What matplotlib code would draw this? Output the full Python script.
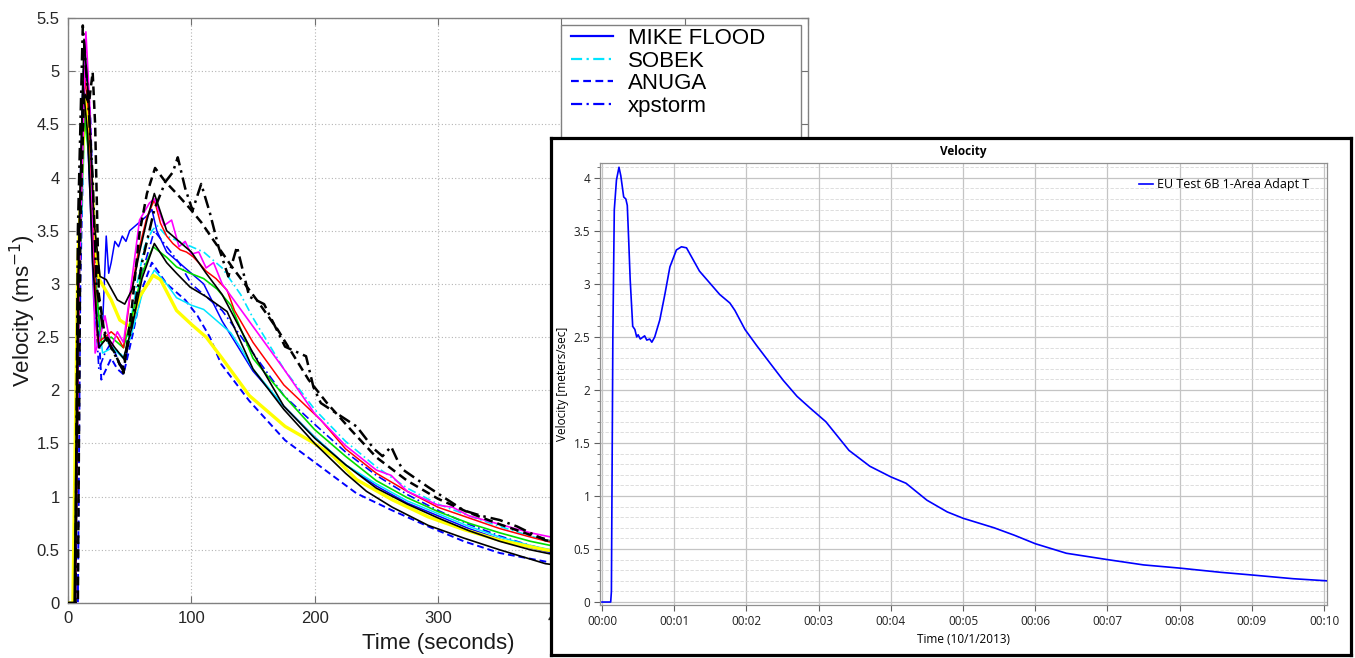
import matplotlib
matplotlib.use('Agg')
import matplotlib.pyplot as plt
from matplotlib.patches import Rectangle
from matplotlib.ticker import FixedLocator, FuncFormatter, MultipleLocator, FormatStrFormatter

# ---------------- data: left chart (time s, velocity m/s) ----------------
mike_t = [0, 6, 9, 12, 15, 18, 21, 24, 28, 31, 33, 35, 38, 41, 44, 47, 50, 55, 60, 65, 68, 72, 80, 90, 100, 110, 125, 150, 175, 200, 225, 250, 275, 300, 325, 350, 375, 400]
mike_v = [0, 0, 3.5, 4.9, 4.6, 3.8, 2.8, 2.5, 2.6, 3.45, 3.1, 3.2, 3.4, 3.35, 3.45, 3.4, 3.5, 3.55, 3.6, 3.65, 3.7, 3.5, 3.3, 3.2, 3.1, 3.0, 2.65, 2.18, 1.85, 1.56, 1.3, 1.1, 0.94, 0.82, 0.7, 0.6, 0.52, 0.45]

sobek_t = [0, 5, 8, 13, 17, 20, 23, 27, 32, 37, 42, 46, 50, 56, 62, 68, 72, 80, 90, 100, 110, 125, 140, 150, 175, 200, 225, 250, 275, 300, 325, 350, 375, 400]
sobek_v = [0, 0, 3.0, 4.7, 4.3, 3.5, 2.6, 2.5, 2.45, 2.4, 2.35, 2.3, 2.6, 3.0, 3.35, 3.5, 3.55, 3.45, 3.4, 3.35, 3.3, 3.15, 2.9, 2.68, 2.2, 1.82, 1.52, 1.28, 1.08, 0.93, 0.82, 0.72, 0.63, 0.55]

anuga_t = [0, 8, 10, 14, 18, 22, 27, 31, 35, 40, 45, 52, 60, 68, 80, 95, 105, 115, 124, 147, 176, 205, 234, 263, 292, 321, 350, 387, 400]
anuga_v = [0, 0, 3.0, 5.1, 4.6, 3.2, 2.1, 2.2, 2.3, 2.2, 2.15, 2.5, 2.95, 3.2, 3.0, 2.85, 2.7, 2.5, 2.25, 1.9, 1.53, 1.28, 1.03, 0.87, 0.72, 0.58, 0.47, 0.39, 0.37]

xp_t = [0, 6, 9, 13, 17, 21, 25, 30, 35, 40, 45, 52, 60, 70, 80, 90, 100, 125, 150, 175, 200, 225, 250, 275, 300, 325, 350, 375, 400]
xp_v = [0, 0, 3.2, 5.2, 4.5, 3.0, 2.2, 2.35, 2.45, 2.3, 2.2, 2.6, 3.1, 3.5, 3.35, 3.2, 3.0, 2.75, 2.35, 1.95, 1.68, 1.42, 1.2, 1.02, 0.87, 0.74, 0.63, 0.54, 0.47]

red_t = [0, 6, 9, 13, 17, 20, 24, 30, 35, 40, 45, 50, 57, 64, 70, 75, 80, 85, 91, 96, 101, 106, 112, 120, 129, 135, 150, 175, 205, 225, 250, 275, 300, 325, 350, 375, 390, 400]
red_v = [0, 0, 3.0, 5.0, 4.6, 3.6, 2.45, 2.5, 2.55, 2.5, 2.4, 2.85, 3.3, 3.63, 3.79, 3.57, 3.45, 3.38, 3.32, 3.3, 3.26, 3.2, 3.12, 3.05, 2.94, 2.75, 2.45, 2.05, 1.72, 1.45, 1.22, 1.05, 0.9, 0.8, 0.7, 0.62, 0.575, 0.55]

mag_t = [0, 6, 9, 14.5, 18, 22, 26, 30, 35, 40, 45, 50, 58, 66, 70, 78, 84, 90, 95, 100, 106, 112, 118, 125, 150, 175, 200, 225, 250, 262, 275, 300, 312, 325, 350, 375, 400]
mag_v = [0, 0, 3.0, 5.37, 4.6, 2.35, 2.5, 2.7, 2.4, 2.55, 2.45, 2.88, 3.6, 3.76, 3.8, 3.55, 3.6, 3.35, 3.4, 3.28, 3.3, 3.15, 3.2, 3.0, 2.6, 2.2, 1.78, 1.48, 1.25, 1.2, 1.05, 0.92, 0.9, 0.82, 0.74, 0.66, 0.6]

green_t = [0, 6, 9, 13, 17, 21, 27, 35, 45, 52, 60, 69, 80, 88, 99, 110, 121, 132, 150, 175, 200, 225, 250, 275, 300, 325, 350, 375, 400]
green_v = [0, 0, 3.0, 4.6, 4.2, 3.2, 2.45, 2.5, 2.4, 2.7, 3.1, 3.35, 3.25, 3.16, 3.1, 3.05, 2.95, 2.8, 2.3, 1.95, 1.63, 1.38, 1.15, 0.99, 0.86, 0.75, 0.66, 0.58, 0.52]

yellow_t = [0, 4, 8, 14, 18, 22, 25, 35, 42, 50, 58, 69, 75, 88, 100, 112, 125, 147, 176, 200, 215, 234, 263, 292, 321, 350, 387, 400]
yellow_v = [0, 0, 3.2, 4.77, 4.2, 3.4, 3.05, 2.85, 2.66, 2.6, 2.88, 3.08, 3.04, 2.75, 2.62, 2.5, 2.3, 1.95, 1.66, 1.5, 1.38, 1.16, 0.97, 0.81, 0.69, 0.59, 0.5, 0.48]

blackA_t = [0, 6, 9, 13, 17, 21, 26, 31, 40, 46, 52, 58, 64, 70, 80, 90, 100, 112, 125, 150, 175, 200, 225, 250, 275, 300, 325, 350, 375, 400]
blackA_v = [0, 0, 3.4, 5.3, 4.7, 3.6, 3.07, 3.04, 2.85, 2.81, 2.95, 3.3, 3.6, 3.85, 3.5, 3.4, 3.3, 3.1, 2.9, 2.35, 1.85, 1.55, 1.3, 1.08, 0.93, 0.8, 0.68, 0.58, 0.5, 0.44]

blackB_t = [0, 5, 8, 12, 16, 20, 25, 32, 38, 45, 52, 60, 70, 80, 88, 99, 112, 129, 150, 175, 200, 225, 242, 263, 292, 321, 350, 387, 400]
blackB_v = [0, 0, 3.0, 4.9, 4.4, 3.2, 2.4, 2.5, 2.4, 2.3, 2.6, 3.05, 3.38, 3.2, 3.1, 2.97, 2.88, 2.74, 2.2, 1.82, 1.5, 1.22, 1.05, 0.9, 0.73, 0.61, 0.5, 0.37, 0.35]

bdash_t = [0, 8, 10, 13, 17, 20, 22, 25, 30, 38, 45, 52, 58, 64, 70.6, 79, 88, 98, 108, 118, 133, 153, 170, 195, 210, 230, 250, 275, 300, 325, 350, 375, 400]
bdash_v = [0, 0, 3.5, 4.8, 4.7, 4.99, 4.5, 2.9, 2.5, 2.35, 2.16, 2.8, 3.48, 3.85, 4.09, 3.96, 3.85, 3.72, 3.58, 3.41, 3.16, 2.85, 2.57, 2.1, 1.88, 1.62, 1.37, 1.15, 0.98, 0.85, 0.74, 0.64, 0.56]

bdd_t = [0, 6, 8, 12, 16, 20, 23, 28, 35, 44, 50, 60, 70, 79, 85, 89, 95, 101, 108, 115, 122, 130, 137, 147, 159, 176, 193, 199, 205, 234, 248, 255, 262, 268, 272, 292, 321, 335, 350, 364, 387, 400]
bdd_v = [0, 0, 3.5, 5.43, 4.8, 4.0, 3.0, 2.6, 2.4, 2.2, 2.5, 3.2, 3.7, 3.96, 4.05, 4.19, 3.9, 3.69, 3.94, 3.67, 3.35, 3.07, 3.35, 2.88, 2.81, 2.41, 2.32, 2.03, 1.88, 1.66, 1.45, 1.38, 1.47, 1.32, 1.25, 1.09, 0.87, 0.82, 0.78, 0.72, 0.59, 0.57]

cyan_t = [0, 6, 9, 14, 18, 22, 28, 36, 45, 52, 60, 70, 80, 88, 100, 110, 121, 132, 140, 150, 175, 200, 225, 250, 275, 300, 325, 350, 375, 400]
cyan_v = [0, 0, 3.0, 4.6, 4.1, 3.0, 2.35, 2.4, 2.3, 2.55, 2.9, 3.13, 3.0, 2.87, 2.8, 2.76, 2.65, 2.54, 2.4, 2.2, 1.85, 1.56, 1.3, 1.12, 0.96, 0.84, 0.72, 0.62, 0.54, 0.48]

legend_labels = ['MIKE FLOOD', 'SOBEK', 'ANUGA', 'xpstorm']
left_xticks = [0, 100, 200, 300, 400, 500, 600]
left_xticklabels = ['0', '100', '200', '300', '400', '', '']

# ---------------- data: inset chart (time min, velocity m/s) ----------------
inset_t = [0, 0.12, 0.13, 0.15, 0.17, 0.2, 0.235, 0.26, 0.3, 0.33, 0.35, 0.37, 0.39, 0.425, 0.455, 0.48, 0.5, 0.53, 0.55, 0.59, 0.62, 0.66, 0.69, 0.73, 0.8, 0.87, 0.94, 1.03, 1.1, 1.17, 1.26, 1.35, 1.49, 1.63, 1.77, 1.84, 1.98, 2.14, 2.33, 2.51, 2.7, 2.88, 3.1, 3.42, 3.71, 4.0, 4.21, 4.5, 4.78, 5.0, 5.43, 5.71, 6.0, 6.43, 7.0, 7.5, 8.0, 8.57, 9.0, 9.57, 10.04]
inset_v = [0, 0, 0.1, 2.5, 3.7, 3.98, 4.1, 4.02, 3.82, 3.8, 3.74, 3.4, 3.04, 2.6, 2.57, 2.5, 2.52, 2.48, 2.49, 2.51, 2.47, 2.48, 2.45, 2.5, 2.66, 2.9, 3.16, 3.32, 3.35, 3.34, 3.23, 3.12, 3.01, 2.9, 2.82, 2.75, 2.57, 2.42, 2.25, 2.09, 1.94, 1.83, 1.70, 1.43, 1.28, 1.18, 1.12, 0.96, 0.85, 0.79, 0.70, 0.63, 0.55, 0.46, 0.40, 0.35, 0.32, 0.28, 0.255, 0.22, 0.20]
inset_label = 'EU Test 6B 1-Area Adapt T'
inset_xticks = list(range(0, 11))

W, H = 1355, 658
def fx(px):
    return px / W
def fy(py):
    return 1 - py / H

fig = plt.figure(figsize=(W / 100, H / 100), dpi=100)
LS = ['Liberation Sans', 'DejaVu Sans']
IF = ['Open Sans', 'DejaVu Sans']
SOLID = '-'
DASHED = (0, (3.5, 2))
DASHDOT = (0, (5, 2, 1, 2))

# ---------------- left chart ----------------
ax = fig.add_axes([fx(68), fy(603), (808 - 68) / W, (603 - 18) / H])
series = [
    (mike_t, mike_v, '#0000ff', SOLID, 1.1, 3),
    (sobek_t, sobek_v, '#00e5ff', DASHDOT, 1.2, 3),
    (anuga_t, anuga_v, '#0000ff', DASHED, 1.4, 3),
    (xp_t, xp_v, '#0000ff', DASHDOT, 1.2, 3),
    (cyan_t, cyan_v, '#00e5ff', SOLID, 1.1, 3),
    (yellow_t, yellow_v, '#ffff00', SOLID, 2.4, 3),
    (green_t, green_v, '#00dd00', SOLID, 1.2, 3),
    (red_t, red_v, '#ff0000', SOLID, 1.1, 3),
    (mag_t, mag_v, '#ff00ff', SOLID, 1.2, 3),
    (blackB_t, blackB_v, '#000000', SOLID, 1.2, 4),
    (blackA_t, blackA_v, '#000000', SOLID, 1.2, 4),
    (bdash_t, bdash_v, '#000000', DASHED, 1.8, 4),
    (bdd_t, bdd_v, '#000000', DASHDOT, 1.8, 4),
]
for t, v, c, ls, lw, z in series:
    ax.plot(t, v, color=c, linestyle=ls, linewidth=lw, zorder=z)

ax.set_xlim(0, 600)
ax.set_ylim(0, 5.5)
ax.xaxis.set_major_locator(FixedLocator(left_xticks))
ax.set_xticklabels(left_xticklabels)
ax.yaxis.set_major_locator(MultipleLocator(0.5))
ax.yaxis.set_major_formatter(FormatStrFormatter('%g'))
ax.grid(True, linestyle=(0, (1, 2)), color='#b4b4b4', linewidth=0.8)
ax.tick_params(direction='in', top=True, right=True, length=5, width=0.8,
               color='#707070', labelsize=12, labelcolor='#262626', pad=6)
for lab in ax.get_xticklabels() + ax.get_yticklabels():
    lab.set_family(LS)
for s in ax.spines.values():
    s.set_color('#808080')
    s.set_linewidth(1.0)
ax.set_xlabel('Time (seconds)', fontsize=16, family=LS, color='#1a1a1a', labelpad=5)
ax.set_ylabel('Velocity (ms$^{-1}$)', fontsize=16, family=LS, color='#1a1a1a')
ax.yaxis.set_label_coords((38 - 68) / 740, 0.5)

# legend box (MATLAB style)
ax.add_patch(Rectangle(((561 - 68) / 740, (603 - 150) / 585), (801 - 561) / 740, (150 - 25) / 585,
                       transform=ax.transAxes, facecolor='white', edgecolor='#808080',
                       linewidth=1.0, zorder=6, clip_on=False))
leg_lines = [plt.Line2D([], [], color=s[2], linestyle=s[3], linewidth=1.6) for s in series[:4]]
leg = ax.legend(leg_lines, legend_labels,
                loc='upper left', bbox_to_anchor=((571 - 68) / 740, (603 - 28) / 585),
                frameon=False, borderpad=0, borderaxespad=0, handlelength=1.9,
                handletextpad=0.65, labelspacing=0.07, prop={'family': LS, 'size': 16})
leg.set_zorder(7)

# ---------------- inset panel ----------------
panel = fig.add_axes([fx(551), fy(655), (1351 - 551) / W, (655 - 138) / H])
panel.set_zorder(10)
panel.set_xticks([]); panel.set_yticks([])
for s in panel.spines.values():
    s.set_color('black'); s.set_linewidth(2.3)
panel.set_facecolor('white')

ins = fig.add_axes([fx(600), fy(605), (1327 - 600) / W, (605 - 163) / H])
ins.set_zorder(11)
ins.plot(inset_t, inset_v, color='#0000ff', linewidth=1.2, label=inset_label, zorder=3)
ins.set_xlim(-0.028, 10.04)
ins.set_ylim(-0.028, 4.14)
ins.xaxis.set_major_locator(FixedLocator(inset_xticks))
ins.xaxis.set_major_formatter(FuncFormatter(lambda x, p: '00:%02d' % int(round(x))))
ins.yaxis.set_major_locator(MultipleLocator(0.5))
ins.yaxis.set_minor_locator(MultipleLocator(0.1))
ins.yaxis.set_major_formatter(FormatStrFormatter('%g'))
ins.grid(True, which='major', color='#c4c4c4', linewidth=0.9, linestyle='-')
ins.grid(True, which='minor', axis='y', color='#d8d8d8', linewidth=0.6, linestyle=(0, (4, 2)))
ins.set_axisbelow(True)
ins.tick_params(which='major', direction='out', length=4, width=0.8, color='#606060',
                labelsize=8.5, labelcolor='#202020', pad=3)
ins.tick_params(which='minor', direction='out', length=2.5, width=0.6, color='#606060')
for lab in ins.get_xticklabels() + ins.get_yticklabels():
    lab.set_family(IF)
for s in ins.spines.values():
    s.set_color('#909090'); s.set_linewidth(0.9)
ins.set_title('Velocity', fontsize=8.5, fontweight='bold', pad=6, family=IF)
ins.set_xlabel('Time (10/1/2013)', fontsize=8.5, labelpad=4, family=IF)
ins.set_ylabel('Velocity [meters/sec]', fontsize=8.5, labelpad=3, family=IF)
ins.legend(loc='upper right', bbox_to_anchor=((1309 - 600) / 727, (605 - 178) / 442),
           frameon=False, prop={'family': IF, 'size': 9}, handlelength=1.1,
           handletextpad=0.3, borderpad=0, borderaxespad=0)

fig.savefig('out.png', dpi=100)
